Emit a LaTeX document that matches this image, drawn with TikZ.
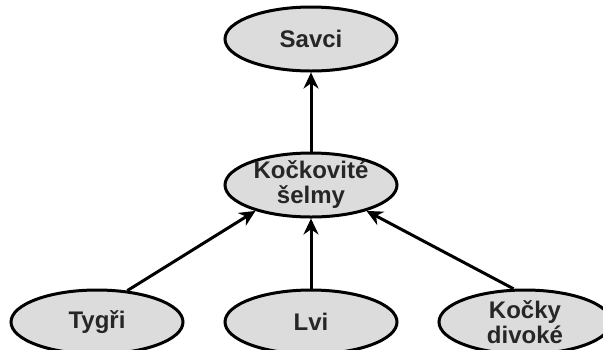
\documentclass[tikz,border=0pt]{standalone}
\usepackage{fontspec}
\setsansfont{Liberation Sans}
\usepackage{tikz}
\usetikzlibrary{shapes.geometric, arrows.meta, positioning}
\definecolor{taxongray}{RGB}{220,220,220}

\begin{document}
\begin{tikzpicture}[
    every node/.style={font=\sffamily\bfseries\fontsize{12}{12.5}\selectfont},
    taxon/.style={ellipse, draw, line width=1.5pt, fill=taxongray, minimum width=86pt, minimum height=32pt, inner xsep=0pt, inner ysep=-3pt, align=center, text=black!85},
    arrow/.style={-{Stealth[length=8pt, width=7.5pt]}, line width=1.5pt}
]

\useasboundingbox (0,0) rectangle (301.5pt,-174.5pt);

\node[taxon] (savci) at (155.5pt,-19.5pt) {Savci};
\node[taxon, below=39.5pt of savci] (selmy) {Kočkovité\\šelmy};

\node[taxon, below=35pt of selmy] (lvi) {Lvi};
\node[taxon, left=19.5pt of lvi] (tygri) {Tygři};
\node[taxon, right=19.5pt of lvi] (kocky) {Kočky\\divoké};

\draw[arrow] (selmy) -- (savci);
\draw[arrow] (tygri.46) -- (selmy.205);
\draw[arrow] (lvi) -- (selmy);
\draw[arrow] (kocky.109) -- (selmy.335);

\end{tikzpicture}
\end{document}
